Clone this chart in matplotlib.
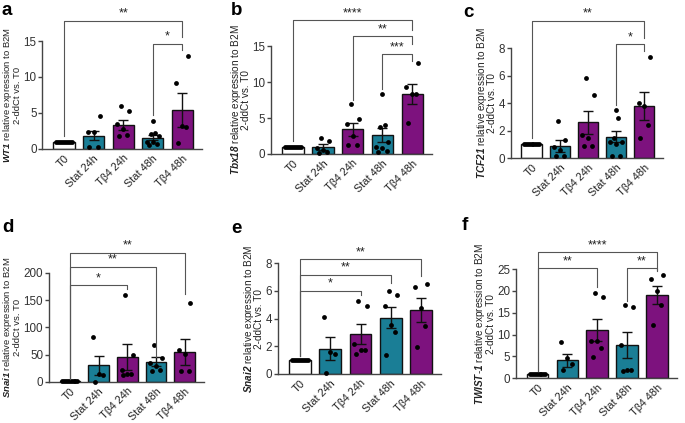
import numpy as np
import matplotlib
matplotlib.use('Agg')
import matplotlib.pyplot as plt

plt.rcParams['font.family'] = ['Liberation Sans', 'DejaVu Sans']
plt.rcParams['mathtext.fontset'] = 'custom'
plt.rcParams['mathtext.rm'] = 'Liberation Sans'
plt.rcParams['mathtext.it'] = 'Liberation Sans:italic'
plt.rcParams['mathtext.bf'] = 'Liberation Sans:bold'
plt.rcParams['mathtext.bfit'] = 'Liberation Sans:bold:italic'

categories = ['T0', 'Stat 24h', 'Tβ4 24h', 'Stat 48h', 'Tβ4 48h']
bar_colors = ['white', '#1a7e96', '#7d127e', '#1a7e96', '#7d127e']

t0_points = [1.0] * 9

# ---- a: WT1
wt1_points = [t0_points, [4.6, 2.4, 2.4, 0.2, 0.2],
              [6.0, 5.3, 3.5, 2.7, 1.8, 1.9],
              [3.9, 2.2, 2.1, 1.8, 1.0, 0.9, 0.7, 0.6],
              [12.9, 9.1, 3.1, 3.2, 0.8]]
wt1_mean = [1.0, 1.85, 3.3, 1.57, 5.44]
wt1_sem = [0.0, 0.65, 0.7, 0.38, 2.35]
wt1_sig = [(0, 4, 17.8, 1.75, 15.5, '**'), (3, 4, 14.65, 4.75, 13.8, '*')]

# ---- b: Tbx18
tbx18_points = [t0_points, [2.2, 1.8, 0.8, 0.5, 0.3, 0.2],
                [7.0, 4.9, 4.2, 2.5, 1.3, 1.2],
                [8.4, 4.0, 3.7, 1.6, 1.0, 0.9, 0.4, 0.3],
                [12.7, 9.3, 8.4, 8.3, 4.3]]
tbx18_mean = [1.0, 0.92, 3.45, 2.67, 8.3]
tbx18_sem = [0.0, 0.43, 0.9, 0.98, 1.4]
tbx18_sig = [(0, 4, 18.6, 1.75, 17.3, '****'), (2, 4, 16.4, 7.5, 15.3, '**'),
             (3, 4, 13.9, 9.0, 12.9, '***')]

# ---- c: TCF21
tcf21_points = [t0_points, [2.7, 1.3, 0.8, 0.6, 0.15, 0.15],
                [5.8, 4.6, 1.7, 1.5, 0.9, 0.9],
                [3.5, 2.9, 1.45, 1.2, 1.2, 1.0, 0.15, 0.15],
                [7.35, 4.0, 3.8, 2.4, 1.5]]
tcf21_mean = [1.0, 0.9, 2.62, 1.55, 3.78]
tcf21_sem = [0.0, 0.43, 0.83, 0.4, 1.02]
tcf21_sig = [(0, 4, 10.0, 1.5, 8.75, '**'), (3, 4, 8.3, 3.9, 7.8, '*')]

# ---- d: Snai1
snai1_points = [t0_points, [82, 15, 12, 0],
                [160, 50, 22, 15, 14, 13],
                [68, 44, 35, 30, 22, 20],
                [145, 59, 52, 20, 20]]
snai1_mean = [1.0, 30.6, 46.0, 37.0, 55.0]
snai1_sem = [0.0, 17.5, 24.0, 8.0, 23.0]
snai1_sig = [(0, 4, 237, 6, 162, '**'), (0, 3, 211, 6, 45, '**'),
             (0, 2, 177, 6, 171, '*')]

# ---- e: Snai2
snai2_points = [t0_points, [4.1, 1.6, 1.45, 0.1],
                [5.24, 4.88, 2.16, 1.75, 1.7, 1.45],
                [6.0, 5.67, 4.88, 3.5, 3.03, 1.35],
                [6.5, 6.3, 4.76, 3.44, 1.92]]
snai2_mean = [1.0, 1.83, 2.88, 4.04, 4.6]
snai2_sem = [0.0, 0.85, 0.69, 0.76, 0.85]
snai2_sig = [(0, 4, 8.27, 1.27, 7.04, '**'), (0, 3, 7.16, 1.27, 6.56, '**'),
             (0, 2, 6.0, 1.27, 5.72, '*')]

# ---- f: TWIST-1
twist1_points = [t0_points, [8.2, 4.6, 3.2, 1.9],
                 [19.5, 18.5, 8.5, 8.4, 7.0, 4.8],
                 [16.8, 16.3, 7.6, 1.8, 1.8, 1.7],
                 [23.7, 22.8, 20.0, 16.7, 12.2]]
twist1_mean = [1.0, 4.06, 11.0, 7.6, 19.1]
twist1_sem = [0.0, 1.45, 2.6, 3.0, 2.0]
twist1_sig = [(0, 4, 28.8, 1.6, 24.8, '****'), (0, 2, 25.2, 1.6, 20.9, '**'),
              (3, 4, 25.2, 17.6, 24.5, '**')]

panels = [
    ('a', 'WT1', wt1_points, wt1_mean, wt1_sem, wt1_sig, 15, [0, 5, 10, 15],
     [0.062, 0.648, 0.233, 0.255], (2, 15)),
    ('b', 'Tbx18', tbx18_points, tbx18_mean, tbx18_sem, tbx18_sig, 15, [0, 5, 10, 15],
     [0.396, 0.636, 0.235, 0.255], (231, 15)),
    ('c', 'TCF21', tcf21_points, tcf21_mean, tcf21_sem, tcf21_sig, 8, [0, 2, 4, 6, 8],
     [0.746, 0.626, 0.222, 0.26], (463, 17)),
    ('d', 'Snai1', snai1_points, snai1_mean, snai1_sem, snai1_sig, 200, [0, 50, 100, 150, 200],
     [0.0715, 0.097, 0.226, 0.258], (2, 232)),
    ('e', 'Snai2', snai2_points, snai2_mean, snai2_sem, snai2_sig, 8, [0, 2, 4, 6, 8],
     [0.406, 0.116, 0.238, 0.262], (231, 233)),
    ('f', 'TWIST-1', twist1_points, twist1_mean, twist1_sem, twist1_sig, 25, [0, 5, 10, 15, 20, 25],
     [0.753, 0.106, 0.235, 0.258], (462, 230)),
]

W, H = 685, 423
fig = plt.figure(figsize=(W / 100, H / 100), dpi=100)
AXC = '#444444'
NARROW = ['Liberation Sans Narrow', 'Liberation Sans', 'DejaVu Sans']


def offsets_for(vals):
    n = len(vals)
    if n >= 9:
        return np.linspace(-0.26, 0.26, n)
    order = np.argsort(vals)
    pattern = [-0.14, 0.14, 0.0, -0.2, 0.2, -0.07, 0.07, 0.0]
    off = np.zeros(n)
    for rank, idx in enumerate(order):
        off[idx] = pattern[rank % len(pattern)]
    return off


axes = []
for letter, gene, pts, mean, sem, sig, ymax, yticks, rect, lpos in panels:
    ax = fig.add_axes(rect)
    axes.append(ax)
    x = np.arange(len(categories))
    ax.bar(x, mean, width=0.72, color=bar_colors, edgecolor='#111111', linewidth=1.0, zorder=2)
    for i in range(1, len(categories)):
        ax.errorbar(x[i], mean[i], yerr=sem[i], color='#111111', capsize=3.5,
                    elinewidth=1.0, capthick=1.0, zorder=3)
    for i, vals in enumerate(pts):
        off = offsets_for(np.array(vals))
        ax.scatter(x[i] + off, vals, s=12, color='black', zorder=4, clip_on=False,
                   linewidths=0)
    for (i, j, top, lb, rb, lab) in sig:
        ax.plot([i, i, j, j], [lb, top, top, rb], color='#555555', lw=0.8,
                clip_on=False, zorder=5)
        ax.text((i + j) / 2, top + ymax * 0.01, lab, ha='center', va='bottom',
                fontsize=9, color='#222222', clip_on=False)
    ax.set_xlim(-0.73, 4.67)
    ax.set_ylim(0, ymax)
    ax.set_yticks(yticks)
    ax.set_yticklabels([str(t) for t in yticks], family=NARROW, fontsize=8.4)
    ax.set_xticks(x)
    ax.set_xticklabels(categories, rotation=45, ha='right', rotation_mode='anchor',
                       fontsize=7.8)
    ax.tick_params(axis='y', length=3, width=1, pad=1.2, colors=AXC,
                   labelcolor='#333333')
    ax.tick_params(axis='x', length=0, pad=3, labelcolor='#222222')
    for s in ['top', 'right']:
        ax.spines[s].set_visible(False)
    for s in ['left', 'bottom']:
        ax.spines[s].set_linewidth(1.0)
        ax.spines[s].set_color(AXC)
    ax.set_ylabel(r'$\mathbfit{' + gene.replace('-', '\\text{-}') + r'}$' +
                  ' relative expression to B2M\n2-ddCt vs. T0', fontsize=7.2,
                  linespacing=0.8, labelpad=1.0, color='#222222')
    fig.text(lpos[0] / W, 1 - lpos[1] / H, letter, fontsize=13.5, fontweight='bold',
             va='baseline', ha='left')

# keep every y label inside the figure and clear of its tick labels
fig.canvas.draw()
renderer = fig.canvas.get_renderer()
for ax in axes:
    lab = ax.yaxis.label
    tls = [t.get_window_extent(renderer) for t in ax.get_yticklabels() if t.get_text()]
    tick_left = min(b.x0 for b in tls)
    bb = lab.get_window_extent(renderer)
    if bb.x0 < 1:
        size = lab.get_fontsize()
        while bb.width > tick_left - 2.5 and size > 5.6:
            size -= 0.2
            lab.set_fontsize(size)
            bb = lab.get_window_extent(renderer)
        target_right = min(tick_left - 1.2, 1.2 + bb.width)
        shift = target_right - bb.x1
        axbb = ax.get_window_extent(renderer)
        xdisp = lab.get_position()[0] + shift
        ax.yaxis.set_label_coords((xdisp - axbb.x0) / axbb.width, 0.5)

fig.savefig('out.png', dpi=100)
